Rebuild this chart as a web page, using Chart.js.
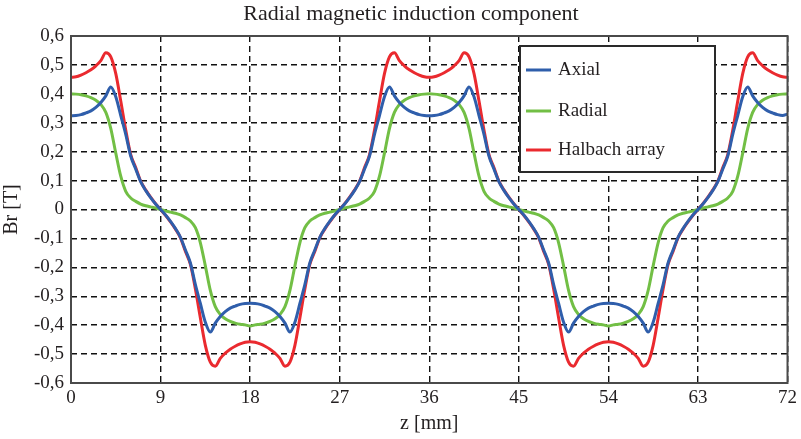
<!DOCTYPE html>
<html>
<head>
<meta charset="utf-8">
<script src="https://cdn.jsdelivr.net/npm/chart.js@4/dist/chart.umd.min.js"></script>
<style>
  html, body { margin: 0; padding: 0; background: #ffffff; }
  #wrap { width: 801px; height: 439px; }
</style>
</head>
<body>
<div id="wrap"><canvas id="chart" width="801" height="439"></canvas></div>
<script>
// Sample positions along z [mm], every 0.5 mm from 0 to 72
const zValues = Array.from({ length: 145 }, (_, i) => i * 0.5);

// Br [T] for the axially magnetised rings
const axial = [
  0.324, 0.325, 0.328, 0.334, 0.341, 0.353, 0.37, 0.393, 0.424, 0.39, 0.325, 0.26, 0.185, 0.14, 0.096, 0.066, 0.041, 0.019, 0,
  -0.019, -0.041, -0.066, -0.096, -0.14, -0.185, -0.26, -0.325, -0.39, -0.424, -0.393, -0.37, -0.353, -0.341, -0.334, -0.328, -0.325, -0.324,
  -0.325, -0.328, -0.334, -0.341, -0.353, -0.37, -0.393, -0.424, -0.39, -0.325, -0.26, -0.185, -0.14, -0.096, -0.066, -0.041, -0.019, 0,
  0.019, 0.041, 0.066, 0.096, 0.14, 0.185, 0.26, 0.325, 0.39, 0.424, 0.393, 0.37, 0.353, 0.341, 0.334, 0.328, 0.325, 0.324,
  0.325, 0.328, 0.334, 0.341, 0.353, 0.37, 0.393, 0.424, 0.39, 0.325, 0.26, 0.185, 0.14, 0.096, 0.066, 0.041, 0.019, 0,
  -0.019, -0.041, -0.066, -0.096, -0.14, -0.185, -0.26, -0.325, -0.39, -0.424, -0.393, -0.37, -0.353, -0.341, -0.334, -0.328, -0.325, -0.324,
  -0.325, -0.328, -0.334, -0.341, -0.353, -0.37, -0.393, -0.424, -0.39, -0.325, -0.26, -0.185, -0.14, -0.096, -0.066, -0.041, -0.019, 0,
  0.019, 0.041, 0.066, 0.096, 0.14, 0.185, 0.26, 0.325, 0.39, 0.424, 0.393, 0.37, 0.353, 0.341, 0.334, 0.328, 0.325, 0.33
];

// Br [T] for the radially magnetised rings
const radial = [
  0.4, 0.399, 0.397, 0.393, 0.387, 0.378, 0.363, 0.336, 0.28, 0.195, 0.115, 0.063, 0.04, 0.028, 0.019, 0.013, 0.009, 0.005, 0,
  -0.005, -0.009, -0.013, -0.019, -0.028, -0.04, -0.063, -0.115, -0.195, -0.28, -0.336, -0.363, -0.378, -0.387, -0.393, -0.397, -0.399, -0.403,
  -0.399, -0.397, -0.393, -0.387, -0.378, -0.363, -0.336, -0.28, -0.195, -0.115, -0.063, -0.04, -0.028, -0.019, -0.013, -0.009, -0.005, 0,
  0.005, 0.009, 0.013, 0.019, 0.028, 0.04, 0.063, 0.115, 0.195, 0.28, 0.336, 0.363, 0.378, 0.387, 0.393, 0.397, 0.399, 0.4,
  0.399, 0.397, 0.393, 0.387, 0.378, 0.363, 0.336, 0.28, 0.195, 0.115, 0.063, 0.04, 0.028, 0.019, 0.013, 0.009, 0.005, 0,
  -0.005, -0.009, -0.013, -0.019, -0.028, -0.04, -0.063, -0.115, -0.195, -0.28, -0.336, -0.363, -0.378, -0.387, -0.393, -0.397, -0.399, -0.403,
  -0.399, -0.397, -0.393, -0.387, -0.378, -0.363, -0.336, -0.28, -0.195, -0.115, -0.063, -0.04, -0.028, -0.019, -0.013, -0.009, -0.005, 0,
  0.005, 0.009, 0.013, 0.019, 0.028, 0.04, 0.063, 0.115, 0.195, 0.28, 0.336, 0.363, 0.378, 0.387, 0.393, 0.397, 0.399, 0.4
];

// Br [T] for the Halbach array
const halbach = [
  0.457, 0.459, 0.465, 0.473, 0.483, 0.497, 0.515, 0.542, 0.528, 0.47, 0.375, 0.275, 0.19, 0.145, 0.098, 0.068, 0.043, 0.02, 0,
  -0.02, -0.043, -0.068, -0.098, -0.145, -0.19, -0.275, -0.375, -0.47, -0.528, -0.542, -0.515, -0.497, -0.483, -0.473, -0.465, -0.459, -0.457,
  -0.459, -0.465, -0.473, -0.483, -0.497, -0.515, -0.542, -0.528, -0.47, -0.375, -0.275, -0.19, -0.145, -0.098, -0.068, -0.043, -0.02, 0,
  0.02, 0.043, 0.068, 0.098, 0.145, 0.19, 0.275, 0.375, 0.47, 0.528, 0.542, 0.515, 0.497, 0.483, 0.473, 0.465, 0.459, 0.457,
  0.459, 0.465, 0.473, 0.483, 0.497, 0.515, 0.542, 0.528, 0.47, 0.375, 0.275, 0.19, 0.145, 0.098, 0.068, 0.043, 0.02, 0,
  -0.02, -0.043, -0.068, -0.098, -0.145, -0.19, -0.275, -0.375, -0.47, -0.528, -0.542, -0.515, -0.497, -0.483, -0.473, -0.465, -0.459, -0.457,
  -0.459, -0.465, -0.473, -0.483, -0.497, -0.515, -0.542, -0.528, -0.47, -0.375, -0.275, -0.19, -0.145, -0.098, -0.068, -0.043, -0.02, 0,
  0.02, 0.043, 0.068, 0.098, 0.145, 0.19, 0.275, 0.375, 0.47, 0.528, 0.542, 0.515, 0.497, 0.483, 0.473, 0.465, 0.459, 0.457
];

const seriesNames = ['Axial', 'Radial', 'Halbach array'];
const seriesColors = ['#2f5eab', '#72bf45', '#ea2a2f'];

const serif = '"Liberation Serif", "DejaVu Serif", serif';
const textColor = '#231f20';

function points(values) {
  return zValues.map((z, i) => ({ x: z, y: values[i] }));
}

function commaDecimal(v) {
  const r = Math.round(v * 10) / 10;
  if (r === 0) return '0';
  return r.toFixed(1).replace('.', ',');
}

// Solid frame around the plotting area
const framePlugin = {
  id: 'frame',
  afterDatasetsDraw(chart) {
    const { ctx, chartArea: a } = chart;
    ctx.save();
    ctx.strokeStyle = '#4a4a4a';
    ctx.lineWidth = 2;
    ctx.setLineDash([]);
    ctx.strokeRect(a.left, a.top, a.right - a.left, a.bottom - a.top);
    ctx.restore();
  }
};

// Chart heading above the plot
const headingPlugin = {
  id: 'heading',
  afterDraw(chart) {
    const { ctx } = chart;
    ctx.save();
    ctx.font = '22px ' + serif;
    ctx.fillStyle = textColor;
    ctx.textAlign = 'center';
    ctx.textBaseline = 'middle';
    ctx.fillText('Radial magnetic induction component', 411, 14);
    ctx.restore();
  }
};

// Boxed legend in the upper right of the plot
const boxLegendPlugin = {
  id: 'boxLegend',
  afterDraw(chart) {
    const { ctx } = chart;
    const box = { x: 520, y: 46, w: 195, h: 126 };
    const rows = [70, 111, 150];
    ctx.save();
    ctx.fillStyle = '#ffffff';
    ctx.fillRect(box.x, box.y, box.w, box.h);
    ctx.strokeStyle = '#2a2a2a';
    ctx.lineWidth = 2;
    ctx.setLineDash([]);
    ctx.strokeRect(box.x, box.y, box.w, box.h);
    ctx.font = '19px ' + serif;
    ctx.textBaseline = 'middle';
    ctx.textAlign = 'left';
    chart.data.datasets.forEach((ds, i) => {
      ctx.strokeStyle = ds.borderColor;
      ctx.lineWidth = 3;
      ctx.beginPath();
      ctx.moveTo(526, rows[i]);
      ctx.lineTo(551, rows[i]);
      ctx.stroke();
      ctx.fillStyle = textColor;
      ctx.fillText(ds.label, 558, rows[i]);
    });
    ctx.restore();
  }
};

const gridStyle = { color: '#111111', lineWidth: 1.4, drawTicks: false };
const gridBorder = { display: false, dash: [6, 4] };

new Chart(document.getElementById('chart'), {
  type: 'line',
  data: {
    datasets: [axial, radial, halbach].map((vals, i) => ({
      label: seriesNames[i],
      data: points(vals),
      borderColor: seriesColors[i],
      backgroundColor: seriesColors[i],
      borderWidth: 3,
      pointRadius: 0,
      fill: false,
      cubicInterpolationMode: 'monotone'
    }))
  },
  options: {
    responsive: false,
    animation: false,
    devicePixelRatio: 1,
    layout: { padding: { top: 36, right: 10, left: 0, bottom: 0 } },
    plugins: {
      legend: { display: false },
      title: { display: false },
      tooltip: { enabled: false }
    },
    scales: {
      x: {
        type: 'linear',
        min: 0,
        max: 72,
        ticks: { stepSize: 9, color: textColor, font: { family: serif, size: 19 }, padding: 4, maxRotation: 0 },
        grid: gridStyle,
        border: gridBorder,
        title: { display: true, text: 'z [mm]', color: textColor, font: { family: serif, size: 20 }, padding: { top: 0, bottom: 3 } },
        afterFit(scale) { scale.height = 56; }
      },
      y: {
        type: 'linear',
        min: -0.6,
        max: 0.6,
        ticks: { stepSize: 0.1, color: textColor, font: { family: serif, size: 19 }, padding: 7, callback: commaDecimal },
        grid: gridStyle,
        border: gridBorder,
        title: { display: true, text: 'Br [T]', color: textColor, font: { family: serif, size: 20 }, padding: { top: 0, bottom: 0 } },
        afterFit(scale) { scale.width = 71; }
      }
    }
  },
  plugins: [framePlugin, headingPlugin, boxLegendPlugin]
});
</script>
</body>
</html>
